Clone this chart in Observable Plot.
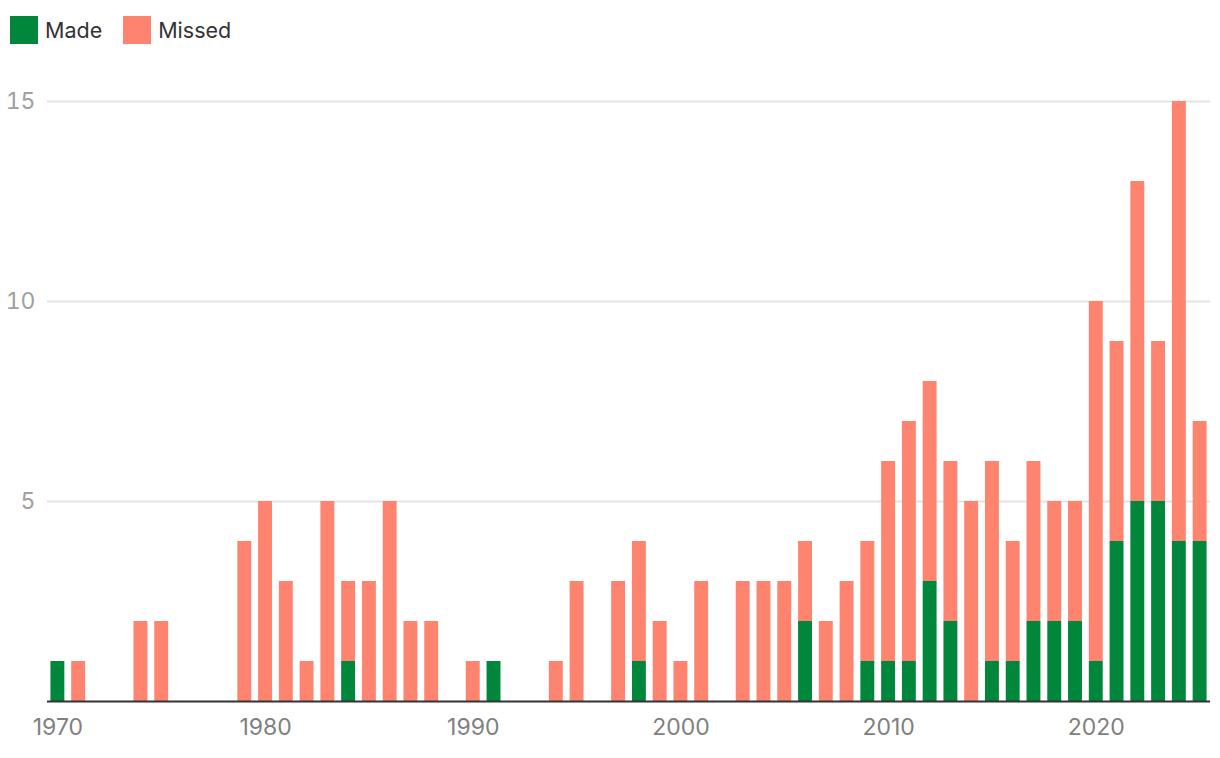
<!DOCTYPE html>
<html><head><meta charset="utf-8">
<script src="https://cdn.jsdelivr.net/npm/d3@7"></script>
<script src="https://cdn.jsdelivr.net/npm/@observablehq/plot@0.6"></script>
<style>
body{margin:0;background:#fff;font-family:Inter,"Liberation Sans",sans-serif;}
#legend{height:60px;display:flex;align-items:flex-start;padding:16px 0 0 10px;box-sizing:border-box;}
.item{display:flex;align-items:center;margin-right:21px;font-size:21.5px;color:#333;line-height:28px;}
.sw{width:28px;height:28px;margin-right:7px;}
svg{display:block;}
</style></head><body>
<div id="legend"></div>
<div id="chart"></div>
<script>
const years = [1970,1971,1972,1973,1974,1975,1976,1977,1978,1979,
  1980,1981,1982,1983,1984,1985,1986,1987,1988,1989,
  1990,1991,1992,1993,1994,1995,1996,1997,1998,1999,
  2000,2001,2002,2003,2004,2005,2006,2007,2008,2009,
  2010,2011,2012,2013,2014,2015,2016,2017,2018,2019,
  2020,2021,2022,2023,2024,2025];
const made = [1,0,0,0,0,0,0,0,0,0,
  0,0,0,0,1,0,0,0,0,0,
  0,1,0,0,0,0,0,0,1,0,
  0,0,0,0,0,0,2,0,0,1,
  1,1,3,2,0,1,1,2,2,2,
  1,4,5,5,4,4];
const missed = [0,1,0,0,2,2,0,0,0,4,
  5,3,1,5,2,3,5,2,2,0,
  1,0,0,0,1,3,0,3,3,2,
  1,3,0,3,3,3,2,2,3,3,
  5,6,5,4,5,5,3,4,3,3,
  9,5,8,4,11,3];
const categories = ["Made","Missed"];
const colors = ["#00873c","#ff8470"];
const xTicks = [1970,1980,1990,2000,2010,2020];
const yTicks = [5,10,15];

const data = [];
years.forEach((yr,i)=>{
  data.push({year:yr,type:"Made",count:made[i]});
  data.push({year:yr,type:"Missed",count:missed[i]});
});

const legend = document.getElementById("legend");
categories.forEach((c,i)=>{
  const it = document.createElement("div"); it.className="item";
  const sw = document.createElement("div"); sw.className="sw"; sw.style.background=colors[i];
  const tx = document.createElement("span"); tx.textContent=c;
  it.appendChild(sw); it.appendChild(tx); legend.appendChild(it);
});

const chart = Plot.plot({
  width:1220, height:698,
  marginLeft:47, marginRight:10, marginTop:41, marginBottom:57,
  style:{fontFamily:"Inter, 'Liberation Sans', sans-serif", background:"#fff"},
  x:{type:"band", domain:years, paddingInner:0.33, paddingOuter:0.165, label:null, axis:null},
  y:{domain:[0,15], label:null, axis:null},
  color:{domain:categories, range:colors},
  marks:[
    Plot.gridY(yTicks, {stroke:"#e4e4e4", strokeOpacity:1, strokeWidth:2}),
    Plot.barY(data, {x:"year", y:"count", fill:"type", order:categories}),
    Plot.ruleY([0], {stroke:"#333", strokeWidth:2}),
    Plot.axisX(xTicks, {tickSize:0, tickPadding:17, fontSize:23, color:"#808080", label:null, tickFormat:d=>String(d)}),
    Plot.axisY(yTicks, {tickSize:0, tickPadding:12, fontSize:23, color:"#a0a0a0", label:null})
  ]
});
document.getElementById("chart").appendChild(chart);
</script>
</body></html>
